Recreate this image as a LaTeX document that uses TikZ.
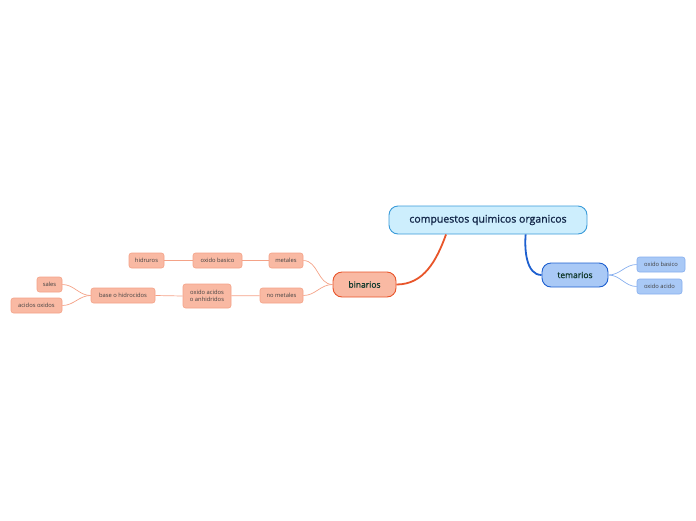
\documentclass[tikz,border=0pt]{standalone}
\usepackage{fontspec}
\setmainfont{Open Sans}
\newfontfamily\heavyfont[FakeBold=1.3]{Open Sans}
\usetikzlibrary{positioning}

\definecolor{rootfill}{HTML}{CDEEFD}
\definecolor{rootline}{HTML}{3A9BD9}
\definecolor{redline}{HTML}{E8552A}
\definecolor{redfill}{HTML}{F9B9A3}
\definecolor{redthin}{HTML}{F4A287}
\definecolor{blueline}{HTML}{1D5FCF}
\definecolor{bluefill}{HTML}{A9C9F6}
\definecolor{bluethin}{HTML}{86AEEE}
\definecolor{deeptext}{HTML}{123A2E}
\definecolor{navytext}{HTML}{14284A}

\tikzset{
  topic/.style={draw, rounded corners=9pt, line width=0.9pt, inner sep=0pt, text=deeptext},
  leaf/.style={draw, rounded corners=2.5pt, line width=0.6pt, inner sep=0pt, minimum height=15pt,
    font=\fontsize{5.8}{7}\selectfont, text=black!75},
  redleaf/.style={leaf, fill=redfill, draw=redthin},
  blueleaf/.style={leaf, fill=bluefill, draw=bluethin},
}

\begin{document}
\begin{tikzpicture}[x=1pt, y=-1pt]
\useasboundingbox (0,0) rectangle (696,520);

% main topic
\node[topic, fill=rootfill, draw=rootline, minimum width=198pt, minimum height=28pt,
  font=\heavyfont\fontsize{10.5}{12}\selectfont, text=navytext] (root) at (488,220) {compuestos quimicos organicos};

% sub topics
\node[topic, fill=redfill, draw=redline, minimum width=63pt, minimum height=25pt,
  font=\heavyfont\fontsize{8.5}{10}\selectfont] (bin) at (364.5,284.5) {binarios};
\node[topic, fill=bluefill, draw=blueline, minimum width=66pt, minimum height=24pt,
  font=\heavyfont\fontsize{8.5}{10}\selectfont] (tem) at (575,275) {temarios};

% binarios branch
\node[redleaf, minimum width=34pt] (met) at (286,260.5) {metales};
\node[redleaf, minimum width=49pt] (obas) at (217.5,260.5) {oxido basico};
\node[redleaf, minimum width=35pt] (hid) at (146.5,260.5) {hidruros};
\node[redleaf, minimum width=43pt] (nomet) at (281.5,295.5) {no metales};
\node[redleaf, minimum width=48pt, minimum height=24pt, align=center] (oac) at (207,296) {oxido acidos\\o anhidridos};
\node[redleaf, minimum width=64pt] (base) at (123,295.5) {base o hidrocidos};
\node[redleaf, minimum width=25pt] (sal) at (49.5,284.5) {sales};
\node[redleaf, minimum width=51pt] (aox) at (36.5,305.5) {acidos oxidos};

% temarios branch
\node[blueleaf, minimum width=48pt] (tbas) at (661,264.5) {oxido basico};
\node[blueleaf, minimum width=45pt] (tac) at (659.5,286.5) {oxido acido};

% connectors
\draw[redline, line width=1.8pt] (root.199) to[out=-110, in=0] (bin.east);
\draw[blueline, line width=1.8pt] (root.-21) to[out=-95, in=180, looseness=0.9] (tem.west);

\draw[redthin, line width=0.7pt] (bin.west) to[out=180, in=0] (met.east);
\draw[redthin, line width=0.7pt] (bin.west) to[out=180, in=0] (nomet.east);
\draw[redthin, line width=0.7pt] (met) -- (obas);
\draw[redthin, line width=0.7pt] (obas) -- (hid);
\draw[redthin, line width=0.7pt] (nomet) -- (oac);
\draw[redthin, line width=0.7pt] (oac.west) -- (base.east);
\draw[redthin, line width=0.7pt] (base.west) to[out=180, in=0] (sal.east);
\draw[redthin, line width=0.7pt] (base.west) to[out=180, in=0] (aox.east);

\draw[bluethin, line width=0.7pt] (tem.east) to[out=0, in=180] (tbas.west);
\draw[bluethin, line width=0.7pt] (tem.east) to[out=0, in=180] (tac.west);
\end{tikzpicture}
\end{document}
